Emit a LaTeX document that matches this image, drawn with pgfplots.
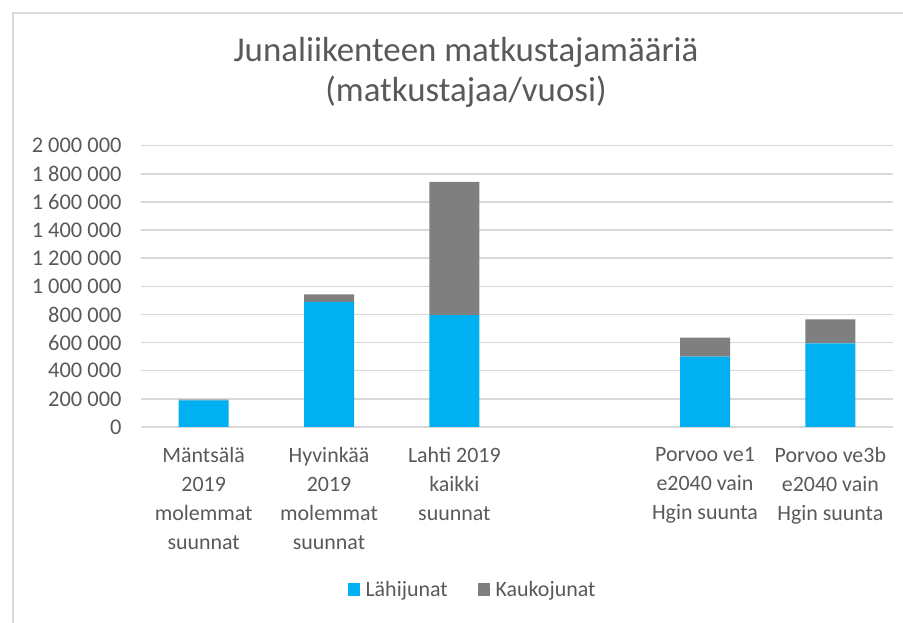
\documentclass[border=0pt]{standalone}
\usepackage{fontspec}
\setmainfont{Carlito}
\usepackage{pgfplots}
\pgfplotsset{compat=1.18}
\definecolor{lahi}{HTML}{00B0F0}
\definecolor{kauko}{HTML}{7F7F7F}
\definecolor{txt}{HTML}{595959}
\definecolor{gridc}{HTML}{D9D9D9}
\begin{document}
\begin{tikzpicture}[x=1bp,y=1bp]
\useasboundingbox (0,0) rectangle (903,623);
\draw[gridc, line width=1.5bp] (13,0) -- (13,610) -- (903,610);
\node[text=txt, font=\fontsize{35}{40}\selectfont, anchor=base] at (466,561.3) {Junaliikenteen matkustajamääriä};
\node[text=txt, font=\fontsize{35}{40}\selectfont, anchor=base] at (466,521.3) {(matkustajaa/vuosi)};
\begin{axis}[
  at={(141bp,196bp)}, anchor=south west,
  scale only axis, width=752bp, height=281.3bp,
  ybar stacked, bar width=50bp,
  xmin=-0.5, xmax=5.5, ymin=0, ymax=2000000,
  xtick={0,1,2,3,4,5},
  xticklabels={{Mäntsälä\\2019\\molemmat\\suunnat},{Hyvinkää\\2019\\molemmat\\suunnat},{Lahti 2019\\kaikki\\suunnat},{},{Porvoo ve1\\e2040 vain\\Hgin suunta},{Porvoo ve3b\\e2040 vain\\Hgin suunta}},
  ytick={0,200000,400000,600000,800000,1000000,1200000,1400000,1600000,1800000,2000000},
  scaled y ticks=false,
  /pgf/number format/fixed,
  /pgf/number format/precision=0,
  /pgf/number format/1000 sep={\ },
  /pgf/number format/assume math mode=true,
  yticklabel style={text=txt, font=\fontsize{22.5}{27}\selectfont, xshift=-16bp},
  xticklabel style={text=txt, font=\fontsize{22}{29}\selectfont, align=center, anchor=north, yshift=-17bp},
  major tick length=0pt,
  axis line style={draw=none},
  ymajorgrids, major grid style={gridc, line width=1.5bp},
  legend style={at={(0.4408,-0.579)}, anchor=center, draw=none, fill=none, legend columns=2,
    font=\fontsize{22}{26}\selectfont, text=txt,
    /tikz/every even column/.append style={column sep=28bp}},
  legend image code/.code={\fill[#1] (0bp,-6bp) rectangle (12bp,7bp); \path (0bp,0bp) -- (16bp,0bp);},
]
\addplot[fill=lahi, draw=none] coordinates {(0,190000) (1,890000) (2,795000) (4,500000) (5,595000)};
\addplot[fill=kauko, draw=none] coordinates {(0,5000) (1,52000) (2,947000) (4,135000) (5,170000)};
\legend{Lähijunat,Kaukojunat}
\end{axis}
\end{tikzpicture}
\end{document}
